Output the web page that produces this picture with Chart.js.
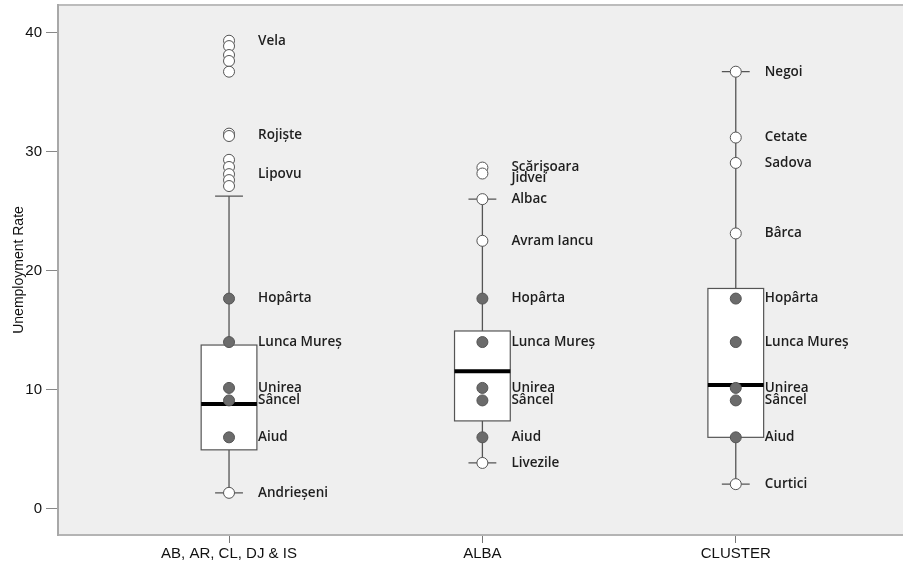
<!DOCTYPE html>
<html>
<head>
<meta charset="utf-8">
<script src="https://cdn.jsdelivr.net/npm/chart.js@4.4.1/dist/chart.umd.min.js"></script>
<style>
  html, body { margin: 0; padding: 0; background: #fff; }
  #wrap { width: 903px; height: 566px; }
</style>
</head>
<body>
<div id="wrap"><canvas id="boxChart" width="903" height="566"></canvas></div>
<script>
'use strict';

// categories and box statistics
var categories = ['AB, AR, CL, DJ & IS', 'ALBA', 'CLUSTER'];
var q1 = [4.95, 7.38, 6.0];
var median = [8.8, 11.55, 10.4];
var q3 = [13.75, 14.93, 18.5];
var whiskerLow = [1.34, 3.85, 2.07];
var whiskerHigh = [26.25, 26.0, 36.7];
var yTicks = [0, 10, 20, 30, 40];

// white circles (cases beyond / at the whiskers)
var outliers = [
    [39.3, 38.85, 38.1, 37.6, 36.7, 31.5, 31.3, 29.3, 28.7, 28.1, 27.6, 27.1, 1.34],
    [28.65, 28.15, 26.0, 22.5, 3.85],
    [36.7, 31.17, 29.04, 23.12, 2.07]
];

// highlighted localities (grey dots), same in each group
var localityNames = ['Hopârta', 'Lunca Mureș', 'Unirea', 'Sâncel', 'Aiud'];
var localityValues = [17.65, 14.0, 10.15, 9.1, 6.0];

// other labelled cases: [group, name, value]
var caseLabels = [
    [0, 'Vela', 39.3], [0, 'Rojiște', 31.4], [0, 'Lipovu', 28.1], [0, 'Andrieșeni', 1.34],
    [1, 'Scărișoara', 28.65], [1, 'Jidvei', 28.15], [1, 'Albac', 26.0], [1, 'Avram Iancu', 22.5], [1, 'Livezile', 3.85],
    [2, 'Negoi', 36.7], [2, 'Cetate', 31.17], [2, 'Sadova', 29.04], [2, 'Bârca', 23.12], [2, 'Curtici', 2.07]
];

var lineColor = '#555555';
var boxHalf = 0.11;   // half box width, x units
var capHalf = 0.055;

// ------------------------------------------------------- //
// datasets built from the arrays
// ------------------------------------------------------ //
var whitePts = [];
outliers.forEach(function (vals, g) {
    vals.forEach(function (v) { whitePts.push({x: g, y: v}); });
});
var greyPts = [];
categories.forEach(function (c, g) {
    localityValues.forEach(function (v) { greyPts.push({x: g, y: v}); });
});

var boxPlugin = {
    id: 'boxPlugin',
    beforeDraw: function (chart) {
        var ctx = chart.ctx, a = chart.chartArea;
        ctx.save();
        ctx.fillStyle = '#efefef';
        ctx.fillRect(a.left, a.top, a.right - a.left, a.bottom - a.top);
        ctx.strokeStyle = '#bcbcbc';
        ctx.lineWidth = 2;
        ctx.beginPath();
        ctx.moveTo(a.left, a.top);
        ctx.lineTo(a.right, a.top);
        ctx.stroke();
        ctx.restore();
    },
    beforeDatasetsDraw: function (chart) {
        var ctx = chart.ctx, xs = chart.scales.x, ys = chart.scales.y;
        ctx.save();
        categories.forEach(function (c, g) {
            var cx = xs.getPixelForValue(g);
            var bl = xs.getPixelForValue(g - boxHalf), br = xs.getPixelForValue(g + boxHalf);
            var cl = xs.getPixelForValue(g - capHalf), cr = xs.getPixelForValue(g + capHalf);
            var yHi = ys.getPixelForValue(whiskerHigh[g]), yLo = ys.getPixelForValue(whiskerLow[g]);
            var yQ1 = ys.getPixelForValue(q1[g]), yQ3 = ys.getPixelForValue(q3[g]);
            var yMed = ys.getPixelForValue(median[g]);
            ctx.strokeStyle = lineColor;
            ctx.lineWidth = 1.3;
            ctx.beginPath();
            ctx.moveTo(cx, yQ3); ctx.lineTo(cx, yHi);
            ctx.moveTo(cx, yQ1); ctx.lineTo(cx, yLo);
            ctx.moveTo(cl, yHi); ctx.lineTo(cr, yHi);
            ctx.moveTo(cl, yLo); ctx.lineTo(cr, yLo);
            ctx.stroke();
            ctx.fillStyle = '#ffffff';
            ctx.fillRect(bl, yQ3, br - bl, yQ1 - yQ3);
            ctx.lineWidth = 1.2;
            ctx.strokeRect(bl, yQ3, br - bl, yQ1 - yQ3);
            ctx.strokeStyle = '#000';
            ctx.lineWidth = 4;
            ctx.beginPath();
            ctx.moveTo(bl, yMed); ctx.lineTo(br, yMed);
            ctx.stroke();
        });
        ctx.restore();
    },
    afterDatasetsDraw: function (chart) {
        var ctx = chart.ctx, xs = chart.scales.x, ys = chart.scales.y;
        var labels = [];
        categories.forEach(function (c, g) {
            localityNames.forEach(function (n, i) { labels.push([g, n, localityValues[i]]); });
        });
        labels = labels.concat(caseLabels);
        ctx.save();
        ctx.font = '600 13.5px "Open Sans"';
        ctx.fillStyle = '#1e1e1e';
        ctx.textAlign = 'left';
        ctx.textBaseline = 'middle';
        categories.forEach(function (c, g) {
            var group = labels.filter(function (l) { return l[0] === g; })
                .map(function (l) { return {name: l[1], y: ys.getPixelForValue(l[2])}; })
                .sort(function (a, b) { return a.y - b.y; });
            for (var i = 1; i < group.length; i++) {
                if (group[i].y - group[i - 1].y < 11) group[i].y = group[i - 1].y + 11;
            }
            var lx = xs.getPixelForValue(g) + 29;
            group.forEach(function (l) { ctx.fillText(l.name, lx, l.y); });
        });
        ctx.restore();
    }
};

var BOXCHART = document.getElementById('boxChart');
var myBoxChart = new Chart(BOXCHART, {
    type: 'scatter',
    data: {
        datasets: [
            {
                data: whitePts,
                pointRadius: 5.5,
                pointBackgroundColor: '#ffffff',
                pointBorderColor: lineColor,
                pointBorderWidth: 1
            },
            {
                data: greyPts,
                pointRadius: 5.5,
                pointBackgroundColor: '#6b6b6b',
                pointBorderColor: '#555555',
                pointBorderWidth: 1
            }
        ]
    },
    options: {
        responsive: false,
        animation: false,
        layout: { autoPadding: false, padding: { top: 5, left: 0, right: 0, bottom: 0 } },
        plugins: {
            legend: { display: false },
            tooltip: { enabled: false }
        },
        scales: {
            x: {
                type: 'linear',
                min: -0.675,
                max: 2.66,
                afterBuildTicks: function (s) {
                    s.ticks = categories.map(function (c, i) { return {value: i}; });
                },
                afterFit: function (s) {
                    s.height = 31;
                    s.paddingLeft = 0;
                    s.paddingRight = 0;
                },
                ticks: {
                    callback: function (v, i) { return categories[i]; },
                    autoSkip: false,
                    maxRotation: 0,
                    padding: 2,
                    color: '#111',
                    font: { family: 'Liberation Sans, Arial', size: 15 }
                },
                grid: { drawOnChartArea: false, drawTicks: true, tickLength: 8, color: '#777' },
                border: { color: '#b4b4b4', width: 2 }
            },
            y: {
                min: -2.2,
                max: 42.3,
                afterBuildTicks: function (s) {
                    s.ticks = yTicks.map(function (v) { return {value: v}; });
                },
                afterFit: function (s) {
                    s.width = 58;
                    s.paddingTop = 0;
                    s.paddingBottom = 0;
                },
                ticks: {
                    padding: 4,
                    color: '#111',
                    font: { family: 'Liberation Sans, Arial', size: 15 }
                },
                grid: { drawOnChartArea: false, drawTicks: true, tickLength: 12, color: '#888' },
                border: { color: '#a8a8a8', width: 2 },
                title: {
                    display: true,
                    text: 'Unemployment Rate',
                    color: '#111',
                    padding: { top: 11, bottom: 0 },
                    font: { family: 'Liberation Sans, Arial', size: 14 }
                }
            }
        }
    },
    plugins: [boxPlugin]
});
</script>
</body>
</html>
